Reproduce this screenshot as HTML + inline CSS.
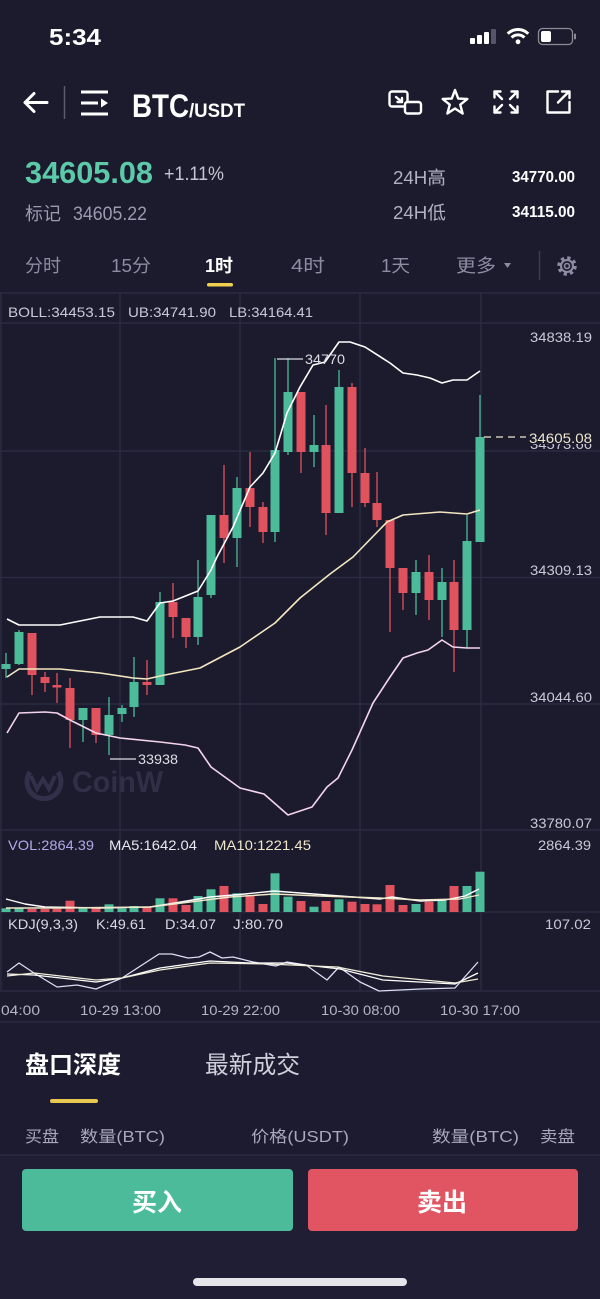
<!DOCTYPE html>
<html><head><meta charset="utf-8"><style>
html,body{margin:0;padding:0;background:#1b1b2d;}
body{width:600px;height:1299px;overflow:hidden;position:relative;}
svg{position:absolute;left:0;top:0;}
text{font-family:"Liberation Sans","Noto Sans CJK SC",sans-serif;}
</style></head><body>
<svg width="600" height="1299" viewBox="0 0 600 1299" xmlns="http://www.w3.org/2000/svg">
<rect x="0" y="0" width="600" height="1299" fill="#1b1b2d"/>
<rect x="0" y="1022" width="600" height="133" fill="#1c1b30"/>
<rect x="0" y="1155" width="600" height="144" fill="#1f1e34"/>

<!-- status bar -->
<text x="49" y="45" font-size="23" font-weight="bold" fill="#fff" textLength="52" lengthAdjust="spacingAndGlyphs">5:34</text>
<rect x="470" y="38" width="5" height="6" rx="1" fill="#fff"/>
<rect x="477" y="35" width="5" height="9" rx="1" fill="#fff"/>
<rect x="484" y="32" width="5" height="12" rx="1" fill="#fff"/>
<rect x="491" y="29" width="5" height="15" rx="1" fill="#55556a"/>
<path d="M507.75 33.75 A14.5 14.5 0 0 1 528.25 33.75" stroke="#fff" stroke-width="3" fill="none"/>
<path d="M511.6 37.6 A9 9 0 0 1 524.4 37.6" stroke="#fff" stroke-width="3" fill="none"/>
<circle cx="518" cy="41.8" r="2.4" fill="#fff"/>
<rect x="538.5" y="28.5" width="34" height="16" rx="4" stroke="#8a8a98" stroke-width="1.3" fill="none"/>
<rect x="541" y="31" width="10" height="11" rx="2" fill="#fff"/>
<rect x="574" y="33.5" width="2" height="6" rx="1" fill="#8a8a98"/>

<!-- nav bar -->
<g stroke="#fff" stroke-width="3" fill="none" stroke-linecap="round" stroke-linejoin="round">
<line x1="26" y1="102.5" x2="47" y2="102.5"/>
<polyline points="34,93.5 25,102.5 34,111.5"/>
</g>
<line x1="64.5" y1="86" x2="64.5" y2="119" stroke="#5a5a70" stroke-width="1.5"/>
<g fill="#fff">
<rect x="81" y="90.5" width="27" height="3"/>
<rect x="81" y="101.5" width="17" height="3"/>
<rect x="81" y="112.5" width="27" height="3"/>
<polygon points="101,98.5 108,103 101,107.5"/>
</g>
<text x="132" y="117" font-size="32" font-weight="bold" fill="#fff" textLength="57" lengthAdjust="spacingAndGlyphs">BTC</text>
<text x="189" y="117" font-size="19" font-weight="bold" fill="#fff" textLength="56" lengthAdjust="spacingAndGlyphs">/USDT</text>
<g stroke="#fff" stroke-width="2.4" fill="none" stroke-linejoin="round" stroke-linecap="round">
<rect x="389.5" y="91.5" width="18" height="15" rx="2.5"/>
<rect x="405" y="102" width="16" height="11.5" rx="2.5" fill="#1b1b2d"/>
<line x1="396" y1="97" x2="402" y2="102"/>
<polyline points="397.5,102 402,102 402,98"/>
<polygon points="455,90 458.23,98.55 467.36,98.98 460.23,104.7 462.64,113.52 455,108.5 447.36,113.52 449.77,104.7 442.64,98.98 451.77,98.55"/>
<line x1="494.5" y1="91.5" x2="502" y2="99"/><polyline points="494.5,97.5 494.5,91.5 500.5,91.5"/>
<line x1="517.5" y1="91.5" x2="510" y2="99"/><polyline points="511.5,91.5 517.5,91.5 517.5,97.5"/>
<line x1="494.5" y1="112.5" x2="502" y2="105"/><polyline points="494.5,106.5 494.5,112.5 500.5,112.5"/>
<line x1="517.5" y1="112.5" x2="510" y2="105"/><polyline points="511.5,112.5 517.5,112.5 517.5,106.5"/>
<path d="M558 91.5 H547.5 V112.5 H569.5 V102"/>
<line x1="558" y1="102.5" x2="569" y2="91.5"/><polyline points="562,91.5 569.5,91.5 569.5,98"/>
</g>

<!-- price -->
<text x="25" y="183" font-size="31" font-weight="bold" fill="#5ccaa9" textLength="128" lengthAdjust="spacingAndGlyphs">34605.08</text>
<text x="164" y="180" font-size="19" fill="#c5c5d5" textLength="60" lengthAdjust="spacingAndGlyphs">+1.11%</text>
<text x="25" y="220" font-size="18" fill="#9a9ab0" textLength="36" lengthAdjust="spacingAndGlyphs">标记</text>
<text x="73" y="220" font-size="19" fill="#9a9ab0" textLength="74" lengthAdjust="spacingAndGlyphs">34605.22</text>
<text x="393" y="184" font-size="18" fill="#b0b0c2" textLength="53" lengthAdjust="spacingAndGlyphs">24H高</text>
<text x="575" y="182" font-size="16" font-weight="bold" fill="#fff" text-anchor="end" textLength="63" lengthAdjust="spacingAndGlyphs">34770.00</text>
<text x="393" y="219" font-size="18" fill="#b0b0c2" textLength="53" lengthAdjust="spacingAndGlyphs">24H低</text>
<text x="575" y="217" font-size="16" font-weight="bold" fill="#fff" text-anchor="end" textLength="63" lengthAdjust="spacingAndGlyphs">34115.00</text>

<!-- tabs -->
<g font-size="18" fill="#8c8ca2">
<text x="25" y="272" textLength="36" lengthAdjust="spacingAndGlyphs">分时</text>
<text x="111" y="272" textLength="40" lengthAdjust="spacingAndGlyphs">15分</text>
<text x="205" y="272" fill="#fff" font-weight="bold" textLength="28" lengthAdjust="spacingAndGlyphs">1时</text>
<text x="291" y="272" textLength="34" lengthAdjust="spacingAndGlyphs">4时</text>
<text x="381" y="272" textLength="29" lengthAdjust="spacingAndGlyphs">1天</text>
<text x="456" y="272" textLength="40" lengthAdjust="spacingAndGlyphs">更多</text>
</g>
<polygon points="504,263 511,263 507.5,268" fill="#8c8ca2"/>
<line x1="539.5" y1="251" x2="539.5" y2="280" stroke="#3a3a52" stroke-width="1.5"/>
<circle cx="567" cy="266" r="8" stroke="#8c8ca2" stroke-width="3.5" fill="none" stroke-dasharray="3.2 3.08"/>
<circle cx="567" cy="266" r="6" stroke="#8c8ca2" stroke-width="2" fill="none"/>
<circle cx="567" cy="266" r="2.5" stroke="#8c8ca2" stroke-width="1.6" fill="none"/>
<rect x="207" y="283" width="26" height="3.5" rx="1.75" fill="#f0d050"/>

<!-- chart grid -->
<g stroke="#2b2b42" stroke-width="1.5">
<line x1="0" y1="293" x2="600" y2="293"/>
<line x1="0" y1="323" x2="600" y2="323"/>
<line x1="0" y1="451" x2="600" y2="451"/>
<line x1="0" y1="577.5" x2="600" y2="577.5"/>
<line x1="0" y1="704" x2="600" y2="704"/>
<line x1="0" y1="830" x2="600" y2="830"/>
<line x1="0" y1="912" x2="600" y2="912"/>
<line x1="0" y1="991" x2="600" y2="991"/>
<line x1="0" y1="1022" x2="600" y2="1022"/>
<line x1="1" y1="293" x2="1" y2="991"/>
<line x1="120" y1="293" x2="120" y2="991"/>
<line x1="240" y1="293" x2="240" y2="991"/>
<line x1="360" y1="293" x2="360" y2="991"/>
<line x1="481" y1="293" x2="481" y2="991"/>
</g>

<g font-size="14" fill="#c8c8d8">
<text x="8" y="317" textLength="107" lengthAdjust="spacingAndGlyphs">BOLL:34453.15</text>
<text x="128" y="317" textLength="88" lengthAdjust="spacingAndGlyphs">UB:34741.90</text>
<text x="229" y="317" textLength="84" lengthAdjust="spacingAndGlyphs">LB:34164.41</text>
<text x="592" y="342" text-anchor="end" textLength="62" lengthAdjust="spacingAndGlyphs">34838.19</text>
<text x="592" y="449" text-anchor="end" textLength="62" lengthAdjust="spacingAndGlyphs">34573.66</text>
<text x="592" y="575" text-anchor="end" textLength="62" lengthAdjust="spacingAndGlyphs">34309.13</text>
<text x="592" y="702" text-anchor="end" textLength="62" lengthAdjust="spacingAndGlyphs">34044.60</text>
<text x="592" y="828" text-anchor="end" textLength="62" lengthAdjust="spacingAndGlyphs">33780.07</text>
</g>

<!-- watermark -->
<path d="M30 772 A17 17 0 1 0 58 772" stroke="#30304a" stroke-width="5" fill="none"/>
<polyline points="31,776 37,789 43,779 49,789 55,776" stroke="#30304a" stroke-width="4" fill="none"/>
<text x="72" y="792" font-size="30" font-weight="bold" fill="#2f2f47" textLength="91" lengthAdjust="spacingAndGlyphs">CoinW</text>

<!-- candles -->
<g stroke-width="1.3">
<g fill="#4cbb9a" stroke="#4cbb9a">
<line x1="6" y1="653" x2="6" y2="678"/><rect x="1.5" y="664" width="9" height="5" stroke="none"/>
<line x1="19" y1="630" x2="19" y2="665"/><rect x="14.5" y="632" width="9" height="32" stroke="none"/>
<line x1="83" y1="708" x2="83" y2="742"/><rect x="78.5" y="708" width="9" height="12" stroke="none"/>
<line x1="109" y1="697" x2="109" y2="755"/><rect x="104.5" y="715" width="9" height="20" stroke="none"/>
<line x1="122" y1="705" x2="122" y2="722"/><rect x="117.5" y="708" width="9" height="6" stroke="none"/>
<line x1="134" y1="657" x2="134" y2="717"/><rect x="129.5" y="682" width="9" height="25" stroke="none"/>
<line x1="160" y1="592" x2="160" y2="685"/><rect x="155.5" y="602" width="9" height="83" stroke="none"/>
<line x1="198" y1="560" x2="198" y2="645"/><rect x="193.5" y="597" width="9" height="40" stroke="none"/>
<line x1="211" y1="515" x2="211" y2="598"/><rect x="206.5" y="515" width="9" height="80" stroke="none"/>
<line x1="237" y1="477" x2="237" y2="567"/><rect x="232.5" y="488" width="9" height="50" stroke="none"/>
<line x1="275" y1="358" x2="275" y2="542"/><rect x="270.5" y="450" width="9" height="82" stroke="none"/>
<line x1="288" y1="358" x2="288" y2="455"/><rect x="283.5" y="392" width="9" height="60" stroke="none"/>
<line x1="314" y1="415" x2="314" y2="467"/><rect x="309.5" y="445" width="9" height="7" stroke="none"/>
<line x1="339" y1="370" x2="339" y2="513"/><rect x="334.5" y="387" width="9" height="126" stroke="none"/>
<line x1="416" y1="560" x2="416" y2="615"/><rect x="411.5" y="572" width="9" height="21" stroke="none"/>
<line x1="442" y1="568" x2="442" y2="637"/><rect x="437.5" y="582" width="9" height="18" stroke="none"/>
<line x1="467" y1="515" x2="467" y2="648"/><rect x="462.5" y="541" width="9" height="89" stroke="none"/>
<line x1="480" y1="395" x2="480" y2="542"/><rect x="475.5" y="437" width="9" height="105" stroke="none"/>
</g>
<g fill="#e0525e" stroke="#e0525e">
<line x1="32" y1="633" x2="32" y2="695"/><rect x="27.5" y="633" width="9" height="42" stroke="none"/>
<line x1="45" y1="672" x2="45" y2="692"/><rect x="40.5" y="677" width="9" height="6" stroke="none"/>
<line x1="57" y1="673" x2="57" y2="703"/><rect x="52.5" y="685" width="9" height="2.5" stroke="none"/>
<line x1="70" y1="678" x2="70" y2="748"/><rect x="65.5" y="688" width="9" height="32" stroke="none"/>
<line x1="96" y1="708" x2="96" y2="743"/><rect x="91.5" y="708" width="9" height="27" stroke="none"/>
<line x1="147" y1="660" x2="147" y2="695"/><rect x="142.5" y="682" width="9" height="3" stroke="none"/>
<line x1="173" y1="583" x2="173" y2="638"/><rect x="168.5" y="602" width="9" height="15" stroke="none"/>
<line x1="186" y1="618" x2="186" y2="648"/><rect x="181.5" y="618" width="9" height="19" stroke="none"/>
<line x1="224" y1="465" x2="224" y2="563"/><rect x="219.5" y="515" width="9" height="23" stroke="none"/>
<line x1="250" y1="452" x2="250" y2="527"/><rect x="245.5" y="488" width="9" height="19" stroke="none"/>
<line x1="263" y1="502" x2="263" y2="543"/><rect x="258.5" y="507" width="9" height="25" stroke="none"/>
<line x1="301" y1="392" x2="301" y2="473"/><rect x="296.5" y="392" width="9" height="60" stroke="none"/>
<line x1="326" y1="405" x2="326" y2="535"/><rect x="321.5" y="445" width="9" height="68" stroke="none"/>
<line x1="352" y1="383" x2="352" y2="507"/><rect x="347.5" y="387" width="9" height="86" stroke="none"/>
<line x1="365" y1="448" x2="365" y2="507"/><rect x="360.5" y="473" width="9" height="30" stroke="none"/>
<line x1="377" y1="472" x2="377" y2="527"/><rect x="372.5" y="503" width="9" height="17" stroke="none"/>
<line x1="390" y1="520" x2="390" y2="632"/><rect x="385.5" y="520" width="9" height="48" stroke="none"/>
<line x1="403" y1="568" x2="403" y2="610"/><rect x="398.5" y="568" width="9" height="25" stroke="none"/>
<line x1="429" y1="555" x2="429" y2="620"/><rect x="424.5" y="572" width="9" height="28" stroke="none"/>
<line x1="454" y1="560" x2="454" y2="672"/><rect x="449.5" y="582" width="9" height="48" stroke="none"/>
</g>
</g>

<!-- bollinger -->
<g fill="none" stroke-width="1.6" stroke-linejoin="round">
<polyline stroke="#ffffff" points="7,619 19,625 60,625 100,617 133,617 147,621 160,603 173,601 198,591 211,570 217,557 233,527 250,487 263,473 275,453 287,413 300,387 313,365 325,362 339,342 350,342 365,347 390,363 403,373 417,375 430,378 442,383 453,380 467,380 480,371"/>
<polyline stroke="#f3e6c0" points="7,677 19,669 60,669 100,673 133,678 147,679 160,676 200,668 240,647 275,623 300,598 320,582 330,574 353,557 387,522 403,515 440,512 467,514 480,510"/>
<polyline stroke="#f4d4ec" points="7,733 19,713 45,712 57,713 70,720 96,733 120,738 160,742 185,745 198,748 211,767 240,788 264,794 288,815 312,807 327,787 338,778 352,750 373,703 390,677 403,658 417,653 428,650 442,640 453,647 467,648 480,648"/>
</g>

<!-- high / low / current labels -->
<line x1="277" y1="359" x2="303" y2="359" stroke="#ddddE6" stroke-width="1.2"/>
<text x="305" y="364" font-size="14" fill="#ddddE6" textLength="40" lengthAdjust="spacingAndGlyphs">34770</text>
<line x1="110" y1="759" x2="136" y2="759" stroke="#ddddE6" stroke-width="1.2"/>
<text x="138" y="764" font-size="14" fill="#ddddE6" textLength="40" lengthAdjust="spacingAndGlyphs">33938</text>
<line x1="484" y1="437" x2="526" y2="437" stroke="#efe6cc" stroke-width="1.2" stroke-dasharray="7 5"/>
<rect x="527" y="429" width="67" height="15" fill="#1b1b2d"/>
<text x="592" y="443" font-size="14" fill="#efe6cc" text-anchor="end" textLength="63" lengthAdjust="spacingAndGlyphs">34605.08</text>

<!-- volume -->
<g font-size="14">
<text x="8" y="850" fill="#b4a6ea" textLength="86" lengthAdjust="spacingAndGlyphs">VOL:2864.39</text>
<text x="109" y="850" fill="#e8e8f0" textLength="88" lengthAdjust="spacingAndGlyphs">MA5:1642.04</text>
<text x="214" y="850" fill="#f0e6c8" textLength="97" lengthAdjust="spacingAndGlyphs">MA10:1221.45</text>
<text x="591" y="850" fill="#c8c8d8" text-anchor="end" textLength="53" lengthAdjust="spacingAndGlyphs">2864.39</text>
</g>
<g fill="#4cbb9a">
<rect x="1.5" y="908.3" width="9" height="3.7"/>
<rect x="14.5" y="908.3" width="9" height="3.7"/>
<rect x="78.5" y="908.3" width="9" height="3.7"/>
<rect x="104.5" y="904.3" width="9" height="7.7"/>
<rect x="117.5" y="908.3" width="9" height="3.7"/>
<rect x="129.5" y="906" width="9" height="6"/>
<rect x="155.5" y="898.3" width="9" height="13.7"/>
<rect x="193.5" y="896" width="9" height="16"/>
<rect x="206.5" y="889.3" width="9" height="22.7"/>
<rect x="232.5" y="893.3" width="9" height="18.7"/>
<rect x="270.5" y="873.3" width="9" height="38.7"/>
<rect x="283.5" y="896.7" width="9" height="15.3"/>
<rect x="309.5" y="906.7" width="9" height="5.3"/>
<rect x="334.5" y="899.3" width="9" height="12.7"/>
<rect x="411.5" y="904" width="9" height="8"/>
<rect x="437.5" y="899.3" width="9" height="12.7"/>
<rect x="462.5" y="886" width="9" height="26"/>
<rect x="475.5" y="871.7" width="9" height="40.3"/>
</g>
<g fill="#e0525e">
<rect x="27.5" y="909" width="9" height="3"/>
<rect x="40.5" y="909" width="9" height="3"/>
<rect x="52.5" y="908.7" width="9" height="3.3"/>
<rect x="65.5" y="900.7" width="9" height="11.3"/>
<rect x="91.5" y="908.3" width="9" height="3.7"/>
<rect x="142.5" y="907.3" width="9" height="4.7"/>
<rect x="168.5" y="898.3" width="9" height="13.7"/>
<rect x="181.5" y="905" width="9" height="7"/>
<rect x="219.5" y="886" width="9" height="26"/>
<rect x="245.5" y="895" width="9" height="17"/>
<rect x="258.5" y="904" width="9" height="8"/>
<rect x="296.5" y="901" width="9" height="11"/>
<rect x="321.5" y="901" width="9" height="11"/>
<rect x="347.5" y="901.7" width="9" height="10.3"/>
<rect x="360.5" y="904" width="9" height="8"/>
<rect x="372.5" y="904.3" width="9" height="7.7"/>
<rect x="385.5" y="885" width="9" height="27"/>
<rect x="398.5" y="905" width="9" height="7"/>
<rect x="424.5" y="901.7" width="9" height="10.3"/>
<rect x="449.5" y="886" width="9" height="26"/>
</g>
<g fill="none" stroke-width="1.4" stroke-linejoin="round">
<polyline stroke="#ffffff" points="6,899 25,904 45,907 100,908 150,907 175,903 210,897 245,894 274,891 300,893 340,896 380,899 392,897 420,901 445,900 465,896 479,889"/>
<polyline stroke="#f0e6c8" points="6,908 60,908 150,907 190,902 230,897 274,894 320,896 380,898 420,900 460,899 479,895"/>
</g>

<!-- KDJ -->
<g font-size="14" fill="#d8d8e4">
<text x="8" y="929" textLength="70" lengthAdjust="spacingAndGlyphs">KDJ(9,3,3)</text>
<text x="96" y="929" textLength="50" lengthAdjust="spacingAndGlyphs">K:49.61</text>
<text x="165" y="929" textLength="51" lengthAdjust="spacingAndGlyphs">D:34.07</text>
<text x="233" y="929" textLength="50" lengthAdjust="spacingAndGlyphs">J:80.70</text>
<text x="591" y="929" text-anchor="end" fill="#c8c8d8" textLength="46" lengthAdjust="spacingAndGlyphs">107.02</text>
</g>
<g fill="none" stroke-width="1.3" stroke-linejoin="round">
<polyline stroke="#dcdcf4" points="7,972 19,963 34,973 57,987 77,985 96,989 122,978 159,954 172,954 188,958 199,957 210,952 222,958 233,957 253,962 276,966 287,962 306,965 327,980 339,967 360,982 379,991 421,989 455,988 478,962"/>
<polyline stroke="#ffffff" points="7,974 34,975 96,982 122,978 160,968 210,961 250,963 287,963 314,966 340,969 383,980 455,984 478,973"/>
<polyline stroke="#f0ecd8" points="7,976 34,973 96,980 122,978 160,970 210,963 268,964 337,967 383,976 455,983 478,979"/>
</g>

<!-- time axis -->
<g font-size="14" fill="#b4b4c6">
<text x="1" y="1015" textLength="39" lengthAdjust="spacingAndGlyphs">04:00</text>
<text x="80" y="1015" textLength="81" lengthAdjust="spacingAndGlyphs">10-29 13:00</text>
<text x="201" y="1015" textLength="79" lengthAdjust="spacingAndGlyphs">10-29 22:00</text>
<text x="321" y="1015" textLength="79" lengthAdjust="spacingAndGlyphs">10-30 08:00</text>
<text x="440" y="1015" textLength="80" lengthAdjust="spacingAndGlyphs">10-30 17:00</text>
</g>

<!-- bottom section -->
<text x="25" y="1073" font-size="24" font-weight="bold" fill="#fff" textLength="96" lengthAdjust="spacingAndGlyphs">盘口深度</text>
<text x="205" y="1073" font-size="24" fill="#d0d0dc" textLength="95" lengthAdjust="spacingAndGlyphs">最新成交</text>
<rect x="50" y="1099" width="48" height="4" rx="2" fill="#e8c850"/>
<g font-size="16" fill="#a8a8ba">
<text x="25" y="1142" textLength="34" lengthAdjust="spacingAndGlyphs">买盘</text>
<text x="80" y="1142" textLength="85" lengthAdjust="spacingAndGlyphs">数量(BTC)</text>
<text x="251" y="1142" textLength="98" lengthAdjust="spacingAndGlyphs">价格(USDT)</text>
<text x="432" y="1142" textLength="87" lengthAdjust="spacingAndGlyphs">数量(BTC)</text>
<text x="540" y="1142" textLength="35" lengthAdjust="spacingAndGlyphs">卖盘</text>
</g>
<line x1="0" y1="1155" x2="600" y2="1155" stroke="#2a2a40" stroke-width="1.5"/>
<rect x="22" y="1169" width="271" height="62" rx="4" fill="#4cbb99"/>
<rect x="308" y="1169" width="270" height="62" rx="4" fill="#e05561"/>
<text x="157" y="1211" font-size="25" font-weight="bold" fill="#fff" text-anchor="middle">买入</text>
<text x="442" y="1211" font-size="25" font-weight="bold" fill="#fff" text-anchor="middle">卖出</text>
<rect x="193" y="1278" width="214" height="8" rx="4" fill="#e6e6ea"/>
</svg>
</body></html>
